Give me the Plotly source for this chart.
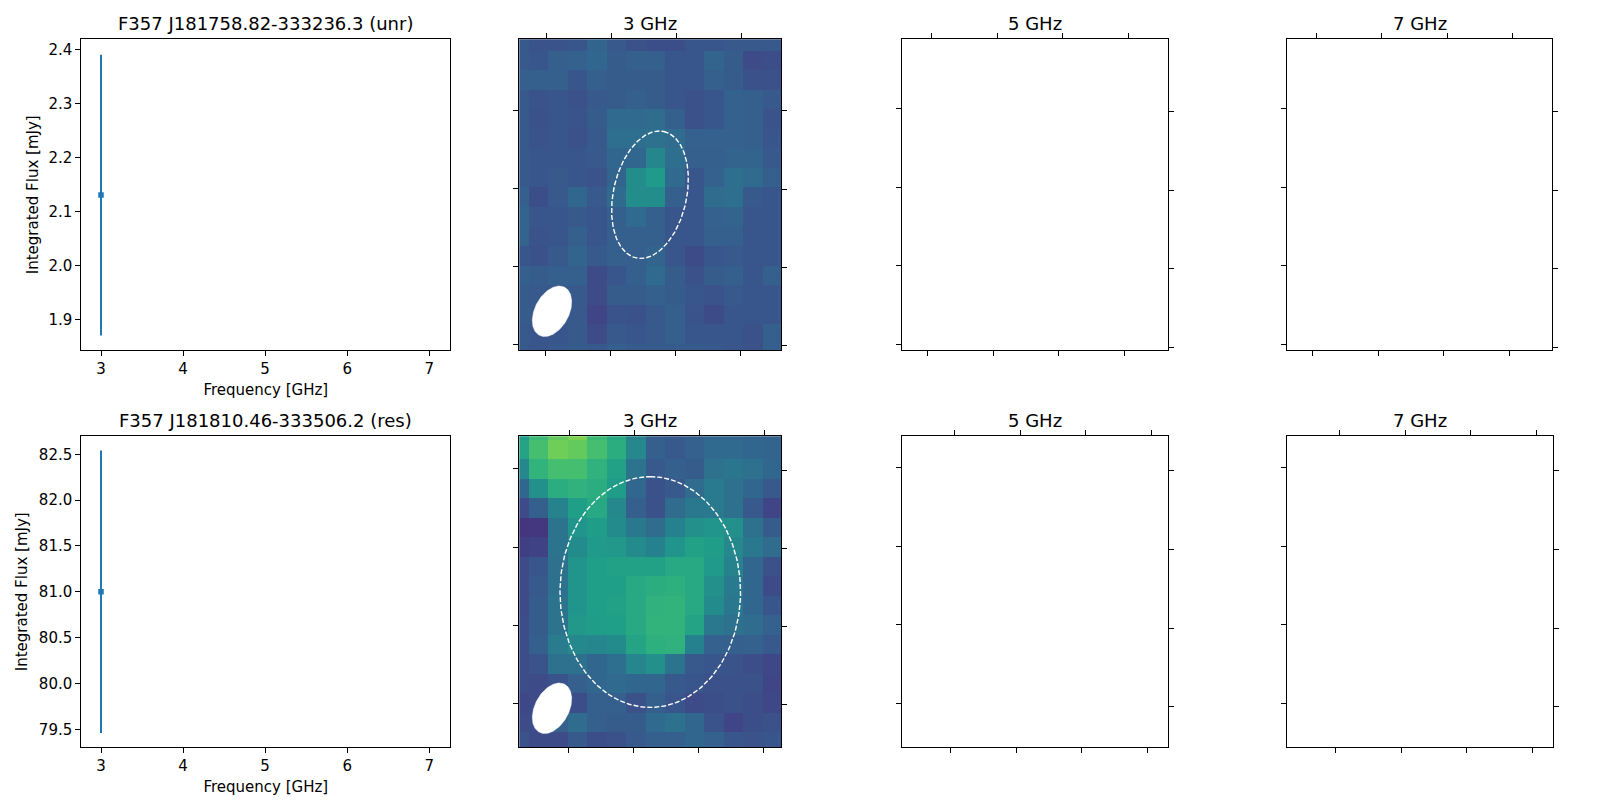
import numpy as np
import plotly.graph_objects as go

W, H = 1620, 810
FONT = "DejaVu Sans"
BLUE = "#1f77b4"
TXT = "black"

# ---------- data ----------
freqs = [3.0]
flux_unr = [2.13]
err_unr = [0.26]
flux_res = [81.0]
err_res = [1.54]

titles_left = ["F357 J181758.82-333236.3 (unr)", "F357 J181810.46-333506.2 (res)"]
band_titles = ["3 GHz", "5 GHz", "7 GHz"]

image_unr = [
    [.28,.26,.26,.27,.32,.28,.25,.24,.24,.27,.27,.28,.28,.28],
    [.28,.27,.30,.31,.33,.29,.30,.30,.27,.27,.32,.29,.23,.24],
    [.30,.30,.30,.27,.30,.29,.29,.29,.27,.27,.30,.29,.25,.25],
    [.28,.26,.27,.25,.28,.29,.30,.29,.27,.25,.27,.31,.30,.28],
    [.28,.25,.27,.26,.29,.34,.34,.35,.30,.25,.27,.31,.30,.26],
    [.28,.26,.27,.25,.28,.36,.36,.37,.35,.31,.31,.31,.30,.27],
    [.28,.27,.27,.27,.28,.33,.33,.46,.36,.30,.30,.32,.32,.28],
    [.28,.27,.28,.27,.26,.32,.49,.54,.34,.27,.31,.36,.34,.30],
    [.30,.24,.28,.33,.28,.34,.49,.49,.30,.27,.35,.36,.28,.27],
    [.32,.27,.27,.28,.27,.30,.34,.30,.27,.27,.31,.32,.27,.27],
    [.32,.26,.27,.30,.27,.30,.30,.30,.27,.27,.30,.30,.27,.27],
    [.27,.25,.28,.32,.28,.30,.30,.32,.27,.23,.27,.28,.27,.27],
    [.30,.29,.30,.30,.23,.27,.30,.34,.29,.25,.29,.30,.27,.30],
    [.29,.28,.28,.28,.23,.29,.29,.30,.29,.27,.26,.28,.27,.27],
    [.29,.28,.28,.28,.21,.26,.25,.28,.30,.26,.23,.27,.27,.27],
    [.28,.27,.27,.28,.23,.28,.27,.28,.30,.27,.27,.27,.25,.30],
    [.28,.27,.28,.29,.28,.30,.29,.29,.29,.29,.28,.27,.25,.30],
]
image_res = [
    [.55,.68,.76,.80,.68,.60,.45,.30,.28,.30,.33,.33,.32,.31],
    [.58,.70,.78,.76,.70,.62,.47,.30,.28,.31,.34,.34,.33,.32],
    [.47,.65,.70,.70,.64,.57,.38,.28,.30,.29,.37,.39,.37,.33],
    [.33,.50,.62,.64,.62,.55,.33,.25,.28,.35,.41,.37,.33,.28],
    [.23,.30,.45,.56,.60,.47,.30,.25,.35,.40,.41,.37,.28,.21],
    [.15,.16,.38,.52,.55,.48,.40,.35,.44,.50,.52,.50,.37,.29],
    [.19,.20,.38,.48,.54,.53,.48,.44,.52,.57,.55,.47,.40,.35],
    [.23,.27,.37,.52,.56,.57,.57,.57,.60,.60,.54,.45,.33,.25],
    [.23,.28,.37,.52,.56,.56,.60,.62,.63,.60,.50,.41,.33,.23],
    [.23,.29,.38,.52,.56,.57,.60,.64,.65,.60,.48,.40,.33,.27],
    [.24,.29,.38,.53,.55,.56,.60,.65,.65,.58,.40,.37,.35,.31],
    [.24,.30,.42,.47,.46,.48,.58,.63,.64,.44,.31,.30,.31,.28],
    [.24,.26,.37,.37,.33,.36,.46,.50,.38,.28,.27,.26,.24,.22],
    [.24,.23,.26,.30,.33,.34,.33,.33,.28,.27,.25,.25,.25,.21],
    [.22,.23,.23,.24,.30,.30,.25,.30,.27,.23,.24,.25,.24,.22],
    [.23,.24,.30,.35,.30,.29,.29,.34,.37,.33,.26,.21,.24,.25],
    [.26,.23,.23,.28,.24,.25,.28,.30,.30,.33,.31,.27,.26,.27],
]

# ellipse parameters in image-cell units: centre x, centre y, semi-major, semi-minor, tilt deg
aperture_unr = (6.705, 7.885, 3.32, 1.88, 12.3)
aperture_res = (6.72, 8.32, 5.915, 4.63, 0.0)
beam_unr = (1.68, 13.86, 1.39, 0.873, 27.9)
beam_res = (1.68, 14.28, 1.39, 0.873, 27.9)

# ---------- layout ----------
ROWS = [(39.3, 350.3), (436.3, 747.3)]
COLS = {
    0: [(81.3, 450.3), (81.3, 450.3)],
    1: [(519.3, 781.3), (519.3, 781.3)],
    2: [(902.3, 1168.3), (902.3, 1168.3)],
    3: [(1287.3, 1552.3), (1287.3, 1553.3)],
}

# image-panel ranges, cell units
img_xrange = [0.003, 13.44]
img_yrange = [[15.86, -0.085], [16.28, 0.336]]
ZMIN, ZMAX = 0, 1

# tick positions on each side of the image panels (cell units)
img_ticks = [
    dict(top=[1.41, 4.74, 8.07, 11.41], bottom=[1.34, 4.67, 8.0, 11.33],
         left=[3.56, 7.56, 11.56, 15.56], right=[3.59, 7.61, 11.61, 15.59]),
    dict(top=[2.59, 5.92, 9.26, 12.59], bottom=[2.52, 5.85, 9.18, 12.51],
         left=[2.01, 6.03, 10.03, 14.03], right=[2.08, 6.08, 10.08, 14.08]),
]
# empty panels: offsets from panel left/top edge
empty_ticks = [
    {2: dict(top=[29.4, 95.4, 160.4, 226.4], bottom=[25, 91, 156, 222],
             left=[69, 148, 226, 304.7], right=[72, 151.4, 229.4, 308.4]),
     3: dict(top=[29.4, 94.4, 160.4, 225.4], bottom=[25, 91, 156, 222],
             left=[69, 148, 226, 304.7], right=[72, 151.4, 229.4, 308.4])},
    {2: dict(top=[52.4, 118.4, 183.4, 249.4], bottom=[48, 114, 179, 245],
             left=[31, 110, 188, 267], right=[34, 113, 192.4, 270]),
     3: dict(top=[52.4, 118.4, 183.4, 249.4], bottom=[48, 114, 179, 245],
             left=[31, 110, 188, 267], right=[34, 113, 192.4, 270])},
]

line_ranges = [
    dict(x=[2.76, 7.256], y=[1.8426, 2.4185], yt=[1.9, 2.0, 2.1, 2.2, 2.3, 2.4]),
    dict(x=[2.76, 7.256], y=[79.304, 82.696], yt=[79.5, 80.0, 80.5, 81.0, 81.5, 82.0, 82.5]),
]
series = [(flux_unr, err_unr), (flux_res, err_res)]
images = [image_unr, image_res]
apertures = [aperture_unr, aperture_res]
beams = [beam_unr, beam_res]
ytitle_standoff = [6, 7]

LINE = dict(showline=True, linecolor="black", linewidth=1.1, showgrid=False, zeroline=False,
            ticks="outside", ticklen=5, tickwidth=1.1, tickcolor="black",
            tickfont=dict(family=FONT, size=15, color=TXT))


def ellipse(cx, cy, a, b, deg):
    t = np.linspace(0, 2 * np.pi, 241)
    th = np.radians(deg)
    x = cx + a * np.cos(t) * np.sin(th) + b * np.sin(t) * np.cos(th)
    y = cy - a * np.cos(t) * np.cos(th) + b * np.sin(t) * np.sin(th)
    return x, y


fig = go.Figure()
layout = {}
annotations = []
next_id = [1]


def new_id():
    i = next_id[0]
    next_id[0] += 1
    return i


def name(letter, i):
    return f"{letter}{'' if i == 1 else i}"


def lname(letter, i):
    return f"{letter}axis{'' if i == 1 else i}"


def dom(col, row):
    l, r = COLS[col][row]
    t, b = ROWS[row]
    return [l / W, r / W], [1 - b / H, 1 - t / H]


for row in range(2):
    # flux panel
    dx, dy = dom(0, row)
    i = new_id()
    rng = line_ranges[row]
    flux, err = series[row]
    fig.add_trace(go.Scatter(
        x=freqs, y=flux, mode="markers",
        marker=dict(symbol="square", size=5.5, color=BLUE),
        error_y=dict(type="data", array=err, visible=True, width=0, thickness=2, color=BLUE),
        xaxis=name("x", i), yaxis=name("y", i), showlegend=False, hoverinfo="skip"))
    layout[lname("x", i)] = dict(LINE, domain=dx, range=rng["x"], anchor=name("y", i), mirror=True,
                                 tickvals=[3, 4, 5, 6, 7], ticktext=["3", "4", "5", "6", "7"],
                                 title=dict(text="Frequency [GHz]", standoff=7,
                                            font=dict(family=FONT, size=15, color=TXT)))
    layout[lname("y", i)] = dict(LINE, domain=dy, range=rng["y"], anchor=name("x", i), mirror=True,
                                 tickvals=rng["yt"], ticktext=[f"{v:.1f}" for v in rng["yt"]],
                                 title=dict(text="Integrated Flux [mJy]", standoff=ytitle_standoff[row],
                                            font=dict(family=FONT, size=15, color=TXT)))
    annotations.append(dict(text=titles_left[row], xref="paper", yref="paper",
                            x=sum(dx) / 2, xanchor="center", y=dy[1], yanchor="bottom", yshift=3,
                            showarrow=False, font=dict(family=FONT, size=18, color=TXT)))

    # image + empty panels
    for col in (1, 2, 3):
        dx, dy = dom(col, row)
        i = new_id()
        if col == 1:
            xr, yr = img_xrange, img_yrange[row]
            ticks = img_ticks[row]
            fig.add_trace(go.Heatmap(
                z=images[row], x=list(range(14)), y=list(range(17)),
                colorscale="Viridis", zmin=ZMIN, zmax=ZMAX, showscale=False, hoverinfo="skip",
                xaxis=name("x", i), yaxis=name("y", i)))
            ax, ay = ellipse(*apertures[row])
            fig.add_trace(go.Scatter(x=ax, y=ay, mode="lines",
                                     line=dict(color="white", width=1.4, dash="5px,2px"),
                                     xaxis=name("x", i), yaxis=name("y", i), showlegend=False, hoverinfo="skip"))
            bx, by = ellipse(*beams[row])
            fig.add_trace(go.Scatter(x=bx, y=by, mode="lines", fill="toself", fillcolor="white",
                                     line=dict(color="white", width=0.5),
                                     xaxis=name("x", i), yaxis=name("y", i), showlegend=False, hoverinfo="skip"))
        else:
            l, r = COLS[col][row]
            t, b = ROWS[row]
            xr, yr = [0, r - l], [b - t, 0]
            ticks = empty_ticks[row][col]
            fig.add_trace(go.Scatter(x=[], y=[], xaxis=name("x", i), yaxis=name("y", i),
                                     showlegend=False, hoverinfo="skip"))
        layout[lname("x", i)] = dict(LINE, domain=dx, range=xr, anchor=name("y", i), side="bottom",
                                     tickvals=ticks["bottom"], showticklabels=False)
        layout[lname("y", i)] = dict(LINE, domain=dy, range=yr, anchor=name("x", i), side="left",
                                     tickvals=ticks["left"], showticklabels=False)
        j = new_id()
        fig.add_trace(go.Scatter(x=[], y=[], xaxis=name("x", j), yaxis=name("y", j),
                                 showlegend=False, hoverinfo="skip"))
        layout[lname("x", j)] = dict(LINE, domain=dx, range=xr, anchor=name("y", j), side="top",
                                     overlaying=name("x", i), tickvals=ticks["top"], showticklabels=False)
        layout[lname("y", j)] = dict(LINE, domain=dy, range=yr, anchor=name("x", j), side="right",
                                     overlaying=name("y", i), tickvals=ticks["right"], showticklabels=False)
        annotations.append(dict(text=band_titles[col - 1], xref="paper", yref="paper",
                                x=sum(dx) / 2, xanchor="center", y=dy[1], yanchor="bottom", yshift=3,
                                showarrow=False, font=dict(family=FONT, size=18, color=TXT)))

fig.update_layout(width=W, height=H, margin=dict(l=0, r=0, t=0, b=0), autosize=False,
                  paper_bgcolor="white", plot_bgcolor="white", showlegend=False,
                  annotations=annotations, **layout)

fig.write_html("out.html", config=dict(displayModeBar=False),
               post_script="document.body.style.margin='0';document.body.style.overflow='hidden';")
